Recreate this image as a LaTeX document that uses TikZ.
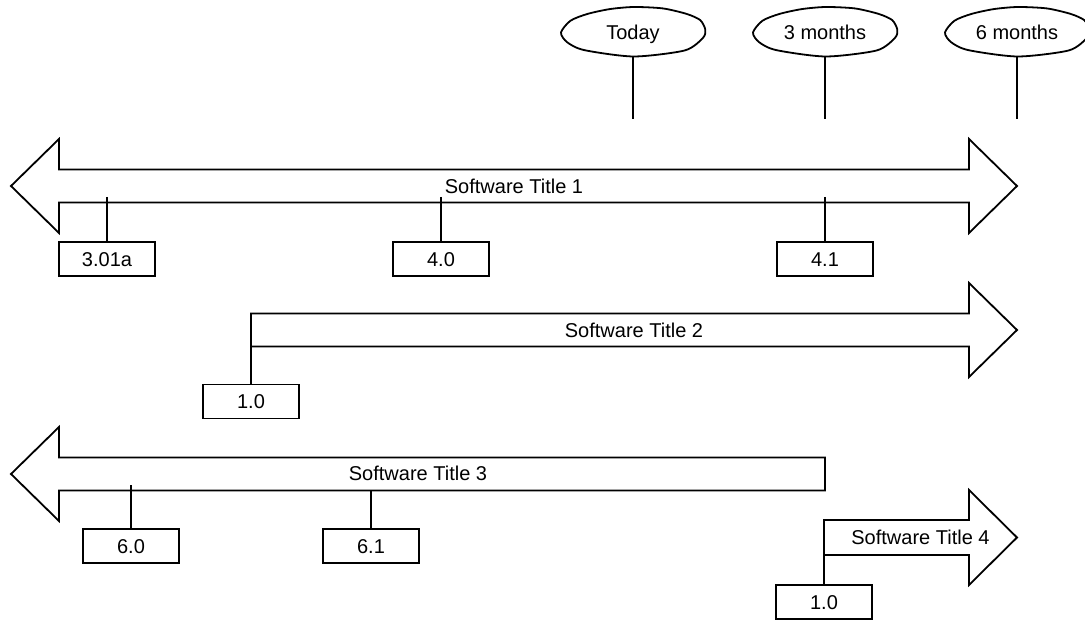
\documentclass[tikz,border=0pt]{standalone}
\usepackage{fontspec}
\setmainfont{Liberation Sans}
\usetikzlibrary{shapes.geometric}

% hand-drawn looking outline around a milestone label
\newcommand\milestoneoutline[1]{%
  \draw[shift={(#1.center)}] plot[smooth cycle, tension=0.45] coordinates {
    (-72,0.5) (-62.5,-11.3) (-45.4,-18.1) (-23.2,-22.9) (0.7,-25) (29.7,-23.6)
    (53.6,-18.1) (67.2,-11.9) (72.3,-2.4) (70,5.8) (51.9,18.4) (0.7,24.5)
    (-48.8,18.1) (-65.9,10.2)};}

\begin{document}
\begin{tikzpicture}[x=1pt, y=-1pt, line width=1.8pt, line join=miter,
  every node/.style={font=\fontsize{20}{24}\selectfont, text height=14.3pt, text depth=0pt},
  lbl/.style={inner sep=0pt},
  rel/.style={draw, fill=white, minimum width=96pt, minimum height=34pt, inner sep=0pt},
  milestone/.style={ellipse, minimum width=144pt, minimum height=49pt, inner sep=0pt},
  bar/.style={draw, fill=white}]

\fill[white] (0,0) rectangle (1085,620);
\useasboundingbox (0,0) rectangle (1085,620);
\clip (0,0) rectangle (1085,620);

% ---- milestones on the time axis
\node[milestone] (today) at (633,32) {Today};
\node[milestone] (m3) at (825,32) {3 months};
\node[milestone] (m6) at (1017,32) {6 months};
\milestoneoutline{today}
\milestoneoutline{m3}
\milestoneoutline{m6}
\coordinate (todayend) at (633,119);
\coordinate (m3end) at (825,119);
\coordinate (m6end) at (1017,119);
\draw (today) -- (todayend);
\draw (m3) -- (m3end);
\draw (m6) -- (m6end);

% ---- product bars
\draw[bar] (11,186) -- (59,139) -- (59,169.5) -- (969,169.5) -- (969,139) -- (1017,186)
  -- (969,233) -- (969,202.5) -- (59,202.5) -- (59,233) -- cycle;
\node[lbl] (t1) at (514,186) {Software Title 1};

\draw[bar] (251,313.5) -- (969,313.5) -- (969,283) -- (1017,330) -- (969,377)
  -- (969,346.5) -- (251,346.5) -- cycle;
\node[lbl] (t2) at (634,330) {Software Title 2};

\draw[bar] (825,457.5) -- (59,457.5) -- (59,427) -- (11,474) -- (59,521)
  -- (59,490.5) -- (825,490.5) -- cycle;
\node[lbl] (t3) at (418,473) {Software Title 3};

\draw[bar] (824,520) -- (969,520) -- (969,490) -- (1017,537.5) -- (969,585)
  -- (969,555) -- (824,555) -- cycle;
\node[lbl] (t4) at (920.5,537.5) {Software Title 4};

% ---- releases
\node[rel] (r1a) at (107,259) {3.01a};
\node[rel] (r1b) at (441,259) {4.0};
\node[rel] (r1c) at (825,259) {4.1};
\node[rel] (r2a) at (251,401.5) {1.0};
\node[rel] (r3a) at (131,546) {6.0};
\node[rel] (r3b) at (371,546) {6.1};
\node[rel] (r4a) at (824,602) {1.0};

\coordinate (k1a) at (107,197);
\coordinate (k1b) at (441,197);
\coordinate (k1c) at (825,197);
\coordinate (k2a) at (251,346.5);
\coordinate (k3a) at (131,485);
\coordinate (k3b) at (371,490.5);
\coordinate (k4a) at (824,555);

\draw (k1a) -- (r1a.north);
\draw (k1b) -- (r1b.north);
\draw (k1c) -- (r1c.north);
\draw (k2a) -- (r2a.north);
\draw (k3a) -- (r3a.north);
\draw (k3b) -- (r3b.north);
\draw (k4a) -- (r4a.north);
\end{tikzpicture}
\end{document}
